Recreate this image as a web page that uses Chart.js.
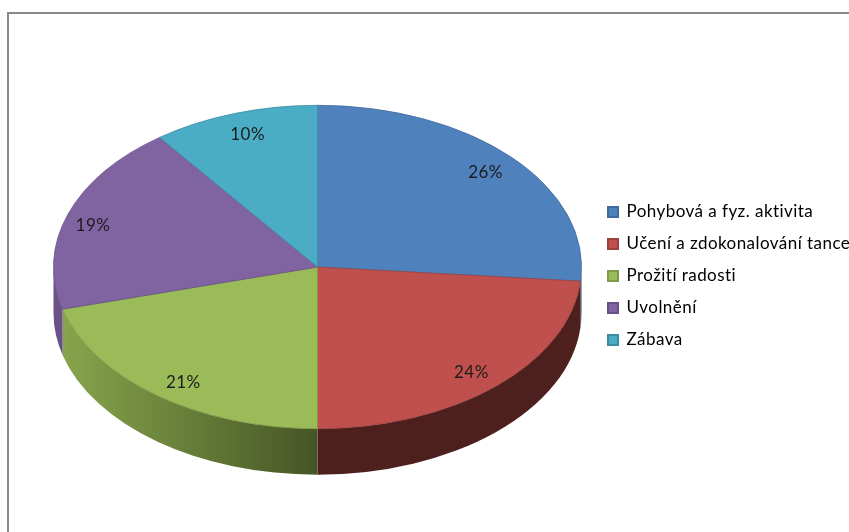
<!DOCTYPE html>
<html><head><meta charset="utf-8">
<style>
html,body{margin:0;padding:0;background:#fff;width:849px;height:532px;overflow:hidden}
#frame{position:absolute;left:7px;top:12px;width:842px;height:520px;border-left:2px solid #8a8a8a;border-top:2px solid #8a8a8a;box-sizing:border-box}
canvas{position:absolute;left:0;top:0}
</style>
<script src="https://cdn.jsdelivr.net/npm/chart.js@4"></script>
</head><body>
<div id="frame"></div>
<canvas id="c" width="849" height="532"></canvas>
<script>
const categories = ['Pohybová a fyz. aktivita','Učení a zdokonalování tance','Prožití radosti','Uvolnění','Zábava'];
const values = [26.4,23.6,20.8,19,10.2];
const colors = ['#4f81bd','#c0504d','#9bbb59','#8064a2','#4bacc6'];
const edges = ['#3f6a9e','#9c3f3d','#7f9a48','#684f86','#3c8da3'];
const wallStart = ['#2f4a6e','#4d1f1d','#8aa84e','#6a5289','#2f6a7a'];
const wallEnd = ['#2f4a6e','#4d1f1d','#465525','#6a5289','#2f6a7a'];
const squash = 162/264.5, depth = 46;
const labelFracX = [.863,.863,.836,.9,.84];
const labelFracY = [.867,.888,.897,.78,.865];
const FONT = 'Lato';

const pie3d = {
  id:'pie3d',
  afterLayout(chart){
    chart.chartArea = {left:53,right:582,top:2.5,bottom:531.5,width:529,height:529};
    const lg = chart.legend, p = lg.options.labels.padding;
    lg.left = 608 - p; lg.right = 849; lg.top = 203.5 - p; lg.bottom = 532;
  },
  beforeDraw(chart){ chart.ctx.letterSpacing = '0.45px'; },
  beforeDatasetsDraw(chart){
    const ctx = chart.ctx, arcs = chart.getDatasetMeta(0).data;
    const cx = arcs[0].x, cy = arcs[0].y, r = arcs[0].outerRadius, ry = r*squash;
    arcs.forEach((a,i)=>{
      const s = Math.max(a.startAngle,-Math.PI/2), e = a.endAngle;
      const from = Math.max(s,0), to = Math.min(e,Math.PI);
      if (to <= from) return;
      const g = ctx.createLinearGradient(cx-r,0,cx,0);
      g.addColorStop(0,wallStart[i]); g.addColorStop(1,wallEnd[i]);
      ctx.save();
      ctx.beginPath();
      ctx.ellipse(cx,cy,r,ry,0,from,to);
      ctx.ellipse(cx,cy+depth,r,ry,0,to,from,true);
      ctx.closePath();
      ctx.fillStyle = g; ctx.fill();
      ctx.restore();
    });
    ctx.save();
    ctx.translate(cx,cy); ctx.scale(1,squash); ctx.translate(-cx,-cy);
  },
  afterDatasetsDraw(chart){
    const ctx = chart.ctx, arcs = chart.getDatasetMeta(0).data;
    ctx.restore();
    ctx.save();
    ctx.fillStyle = '#1c1c1c';
    ctx.font = '17px '+FONT;
    ctx.textAlign = 'center'; ctx.textBaseline = 'middle';
    arcs.forEach((a,i)=>{
      const m = (a.startAngle+a.endAngle)/2;
      const x = a.x + Math.cos(m)*a.outerRadius*labelFracX[i];
      const y = a.y + Math.sin(m)*a.outerRadius*squash*labelFracY[i];
      ctx.fillText(Math.round(values[i])+'%',x,y);
    });
    ctx.restore();
  }
};

new Chart(document.getElementById('c'),{
  type:'pie',
  data:{labels:categories,datasets:[{data:values,backgroundColor:colors,borderColor:edges,borderWidth:1}]},
  plugins:[pie3d],
  options:{
    responsive:false,animation:false,
    plugins:{
      tooltip:{enabled:false},
      legend:{
        position:'right',align:'start',
        labels:{
          boxWidth:10,boxHeight:10,padding:15,color:'#1c1c1c',
          font:{family:FONT,size:17},
          generateLabels(chart){
            return categories.map((t,i)=>({text:t,fillStyle:colors[i],strokeStyle:edges[i],lineWidth:2,index:i}));
          }
        }
      }
    }
  }
});
</script>
</body></html>
